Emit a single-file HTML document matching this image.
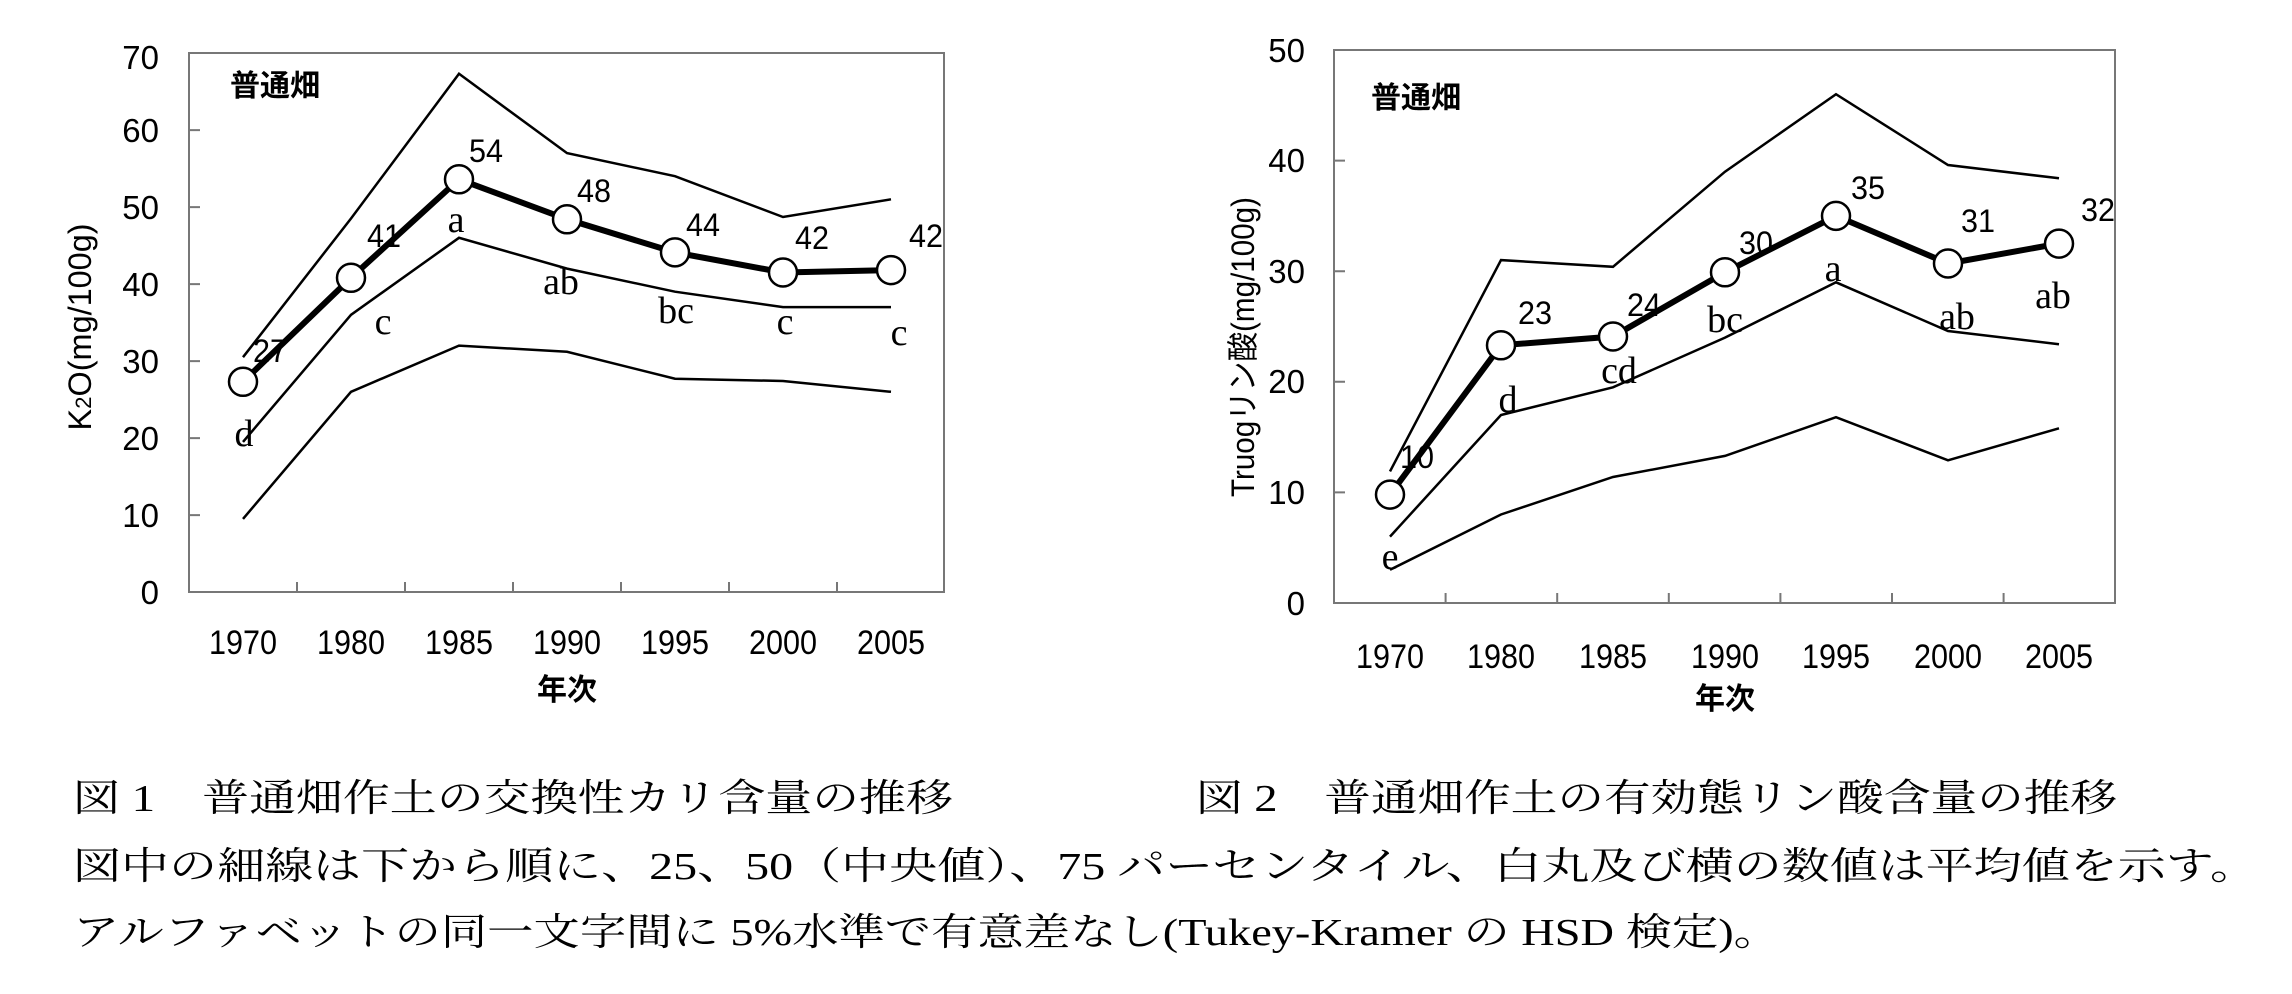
<!DOCTYPE html>
<html><head><meta charset="utf-8"><style>
html,body{margin:0;padding:0;background:#fff;}
svg{display:block}
.t{font-family:"Liberation Sans","Noto Sans CJK JP",sans-serif;fill:#000}
.s{font-family:"Liberation Serif","Noto Serif CJK JP",serif;fill:#000}
</style></head><body>
<svg width="2292" height="994" viewBox="0 0 2292 994" xmlns="http://www.w3.org/2000/svg">
<rect width="2292" height="994" fill="#fff"/>
<!-- LEFT CHART -->
<g stroke="#777" stroke-width="2" fill="none">
<rect x="189" y="53" width="755" height="539"/>
<path d="M189 130.1h11M189 207.1h11M189 284.1h11M189 361.1h11M189 438.1h11M189 515.1h11"/>
<path d="M297 592v-10M405 592v-10M513 592v-10M621 592v-10M729 592v-10M837 592v-10"/>
</g>
<g class="t" font-size="33" text-anchor="end">
<text x="159" y="69">70</text><text x="159" y="142">60</text><text x="159" y="219">50</text><text x="159" y="296">40</text><text x="159" y="373">30</text><text x="159" y="450">20</text><text x="159" y="527">10</text><text x="159" y="604">0</text>
</g>
<g class="t" font-size="34" text-anchor="middle">
<text x="243" y="654" textLength="68" lengthAdjust="spacingAndGlyphs">1970</text>
<text x="351" y="654" textLength="68" lengthAdjust="spacingAndGlyphs">1980</text>
<text x="459" y="654" textLength="68" lengthAdjust="spacingAndGlyphs">1985</text>
<text x="567" y="654" textLength="68" lengthAdjust="spacingAndGlyphs">1990</text>
<text x="675" y="654" textLength="68" lengthAdjust="spacingAndGlyphs">1995</text>
<text x="783" y="654" textLength="68" lengthAdjust="spacingAndGlyphs">2000</text>
<text x="891" y="654" textLength="68" lengthAdjust="spacingAndGlyphs">2005</text>
<text x="567" y="700" font-size="30" font-weight="bold">年次</text>
</g>
<text class="t" x="275" y="96" font-size="30" font-weight="bold" text-anchor="middle">普通畑</text>
<text class="t" font-size="32" text-anchor="middle" transform="translate(91,327) rotate(-90)" textLength="207" lengthAdjust="spacingAndGlyphs">K<tspan font-size="22">2</tspan>O(mg/100g)</text>
<g fill="none" stroke="#000" stroke-width="2.5">
<polyline points="243,357.2 351,218.5 459,73.8 567,153.1 675,176.2 783,217 891,199.3"/>
<polyline points="243,441.9 351,314.8 459,237.8 567,268.6 675,291.7 783,307.1 891,307.1"/>
<polyline points="243,518.9 351,391.8 459,345.6 567,351.8 675,378.7 783,381 891,391.8"/>
<polyline stroke-width="6" points="243,381.8 351,277.8 459,179.3 567,219.3 675,252.4 783,272.5 891,270.1"/>
</g>
<g fill="#fff" stroke="#000" stroke-width="2.5">
<circle cx="243" cy="381.8" r="14"/><circle cx="351" cy="277.8" r="14"/><circle cx="459" cy="179.3" r="14"/><circle cx="567" cy="219.3" r="14"/><circle cx="675" cy="252.4" r="14"/><circle cx="783" cy="272.5" r="14"/><circle cx="891" cy="270.1" r="14"/>
</g>
<g class="t" font-size="32" text-anchor="middle">
<text x="270" y="362" textLength="34" lengthAdjust="spacingAndGlyphs">27</text><text x="384" y="247" textLength="34" lengthAdjust="spacingAndGlyphs">41</text><text x="486" y="162" textLength="34" lengthAdjust="spacingAndGlyphs">54</text><text x="594" y="202" textLength="34" lengthAdjust="spacingAndGlyphs">48</text><text x="703" y="236" textLength="34" lengthAdjust="spacingAndGlyphs">44</text><text x="812" y="249" textLength="34" lengthAdjust="spacingAndGlyphs">42</text><text x="926" y="247" textLength="34" lengthAdjust="spacingAndGlyphs">42</text>
</g>
<g class="s" font-size="38" text-anchor="middle">
<text x="244" y="446">d</text><text x="383" y="334">c</text><text x="456" y="232">a</text><text x="561" y="294">ab</text><text x="676" y="323">bc</text><text x="785" y="334">c</text><text x="899" y="345">c</text>
</g>

<!-- RIGHT CHART -->
<g stroke="#777" stroke-width="2" fill="none">
<rect x="1334" y="50" width="781" height="553"/>
<path d="M1334 160.6h11M1334 271.2h11M1334 381.8h11M1334 492.4h11"/>
<path d="M1445.6 603v-10M1557.2 603v-10M1668.8 603v-10M1780.4 603v-10M1892 603v-10M2003.6 603v-10"/>
</g>
<g class="t" font-size="33" text-anchor="end">
<text x="1305" y="62">50</text><text x="1305" y="172">40</text><text x="1305" y="283">30</text><text x="1305" y="393">20</text><text x="1305" y="504">10</text><text x="1305" y="615">0</text>
</g>
<g class="t" font-size="34" text-anchor="middle">
<text x="1390" y="668" textLength="68" lengthAdjust="spacingAndGlyphs">1970</text>
<text x="1501" y="668" textLength="68" lengthAdjust="spacingAndGlyphs">1980</text>
<text x="1613" y="668" textLength="68" lengthAdjust="spacingAndGlyphs">1985</text>
<text x="1725" y="668" textLength="68" lengthAdjust="spacingAndGlyphs">1990</text>
<text x="1836" y="668" textLength="68" lengthAdjust="spacingAndGlyphs">1995</text>
<text x="1948" y="668" textLength="68" lengthAdjust="spacingAndGlyphs">2000</text>
<text x="2059" y="668" textLength="68" lengthAdjust="spacingAndGlyphs">2005</text>
<text x="1725" y="709" font-size="30" font-weight="bold">年次</text>
</g>
<text class="t" x="1416" y="108" font-size="30" font-weight="bold" text-anchor="middle">普通畑</text>
<text class="t" font-size="32" text-anchor="middle" transform="translate(1254,347) rotate(-90)" textLength="300" lengthAdjust="spacingAndGlyphs">Truogリン酸(mg/100g)</text>
<g fill="none" stroke="#000" stroke-width="2.5">
<polyline points="1390,471.4 1501,260.1 1613,266.8 1725,171.7 1836,94.2 1948,165 2059,178.3"/>
<polyline points="1390,536.6 1501,415 1613,387.3 1725,337.6 1836,282.3 1948,331 2059,344.2"/>
<polyline points="1390,569.8 1501,514.5 1613,477 1725,455.9 1836,417.2 1948,460.3 2059,428.3"/>
<polyline stroke-width="6" points="1390,494.6 1501,345.3 1613,336.5 1725,272.3 1836,215.9 1948,263.5 2059,243.6"/>
</g>
<g fill="#fff" stroke="#000" stroke-width="2.5">
<circle cx="1390" cy="494.6" r="14"/><circle cx="1501" cy="345.3" r="14"/><circle cx="1613" cy="336.5" r="14"/><circle cx="1725" cy="272.3" r="14"/><circle cx="1836" cy="215.9" r="14"/><circle cx="1948" cy="263.5" r="14"/><circle cx="2059" cy="243.6" r="14"/>
</g>
<g class="t" font-size="32" text-anchor="middle">
<text x="1417" y="468" textLength="34" lengthAdjust="spacingAndGlyphs">10</text><text x="1535" y="324" textLength="34" lengthAdjust="spacingAndGlyphs">23</text><text x="1644" y="316" textLength="34" lengthAdjust="spacingAndGlyphs">24</text><text x="1756" y="254" textLength="34" lengthAdjust="spacingAndGlyphs">30</text><text x="1868" y="199" textLength="34" lengthAdjust="spacingAndGlyphs">35</text><text x="1978" y="232" textLength="34" lengthAdjust="spacingAndGlyphs">31</text><text x="2098" y="221" textLength="34" lengthAdjust="spacingAndGlyphs">32</text>
</g>
<g class="s" font-size="38" text-anchor="middle">
<text x="1390" y="569">e</text><text x="1508" y="412">d</text><text x="1619" y="383">cd</text><text x="1725" y="332">bc</text><text x="1833" y="281">a</text><text x="1957" y="329">ab</text><text x="2053" y="308">ab</text>
</g>

<!-- CAPTIONS -->
<g class="s" font-size="38">
<text x="73" y="811" textLength="880" lengthAdjust="spacingAndGlyphs">図 1　普通畑作土の交換性カリ含量の推移</text>
<text x="1196" y="811" textLength="921" lengthAdjust="spacingAndGlyphs">図 2　普通畑作土の有効態リン酸含量の推移</text>
<text x="73" y="879" textLength="2185" lengthAdjust="spacingAndGlyphs">図中の細線は下から順に、25、50（中央値）、75 パーセンタイル、白丸及び横の数値は平均値を示す。</text>
<text x="73" y="945" textLength="1707" lengthAdjust="spacingAndGlyphs">アルファベットの同一文字間に 5%水準で有意差なし(Tukey-Kramer の HSD 検定)。</text>
</g>
</svg>
</body></html>
